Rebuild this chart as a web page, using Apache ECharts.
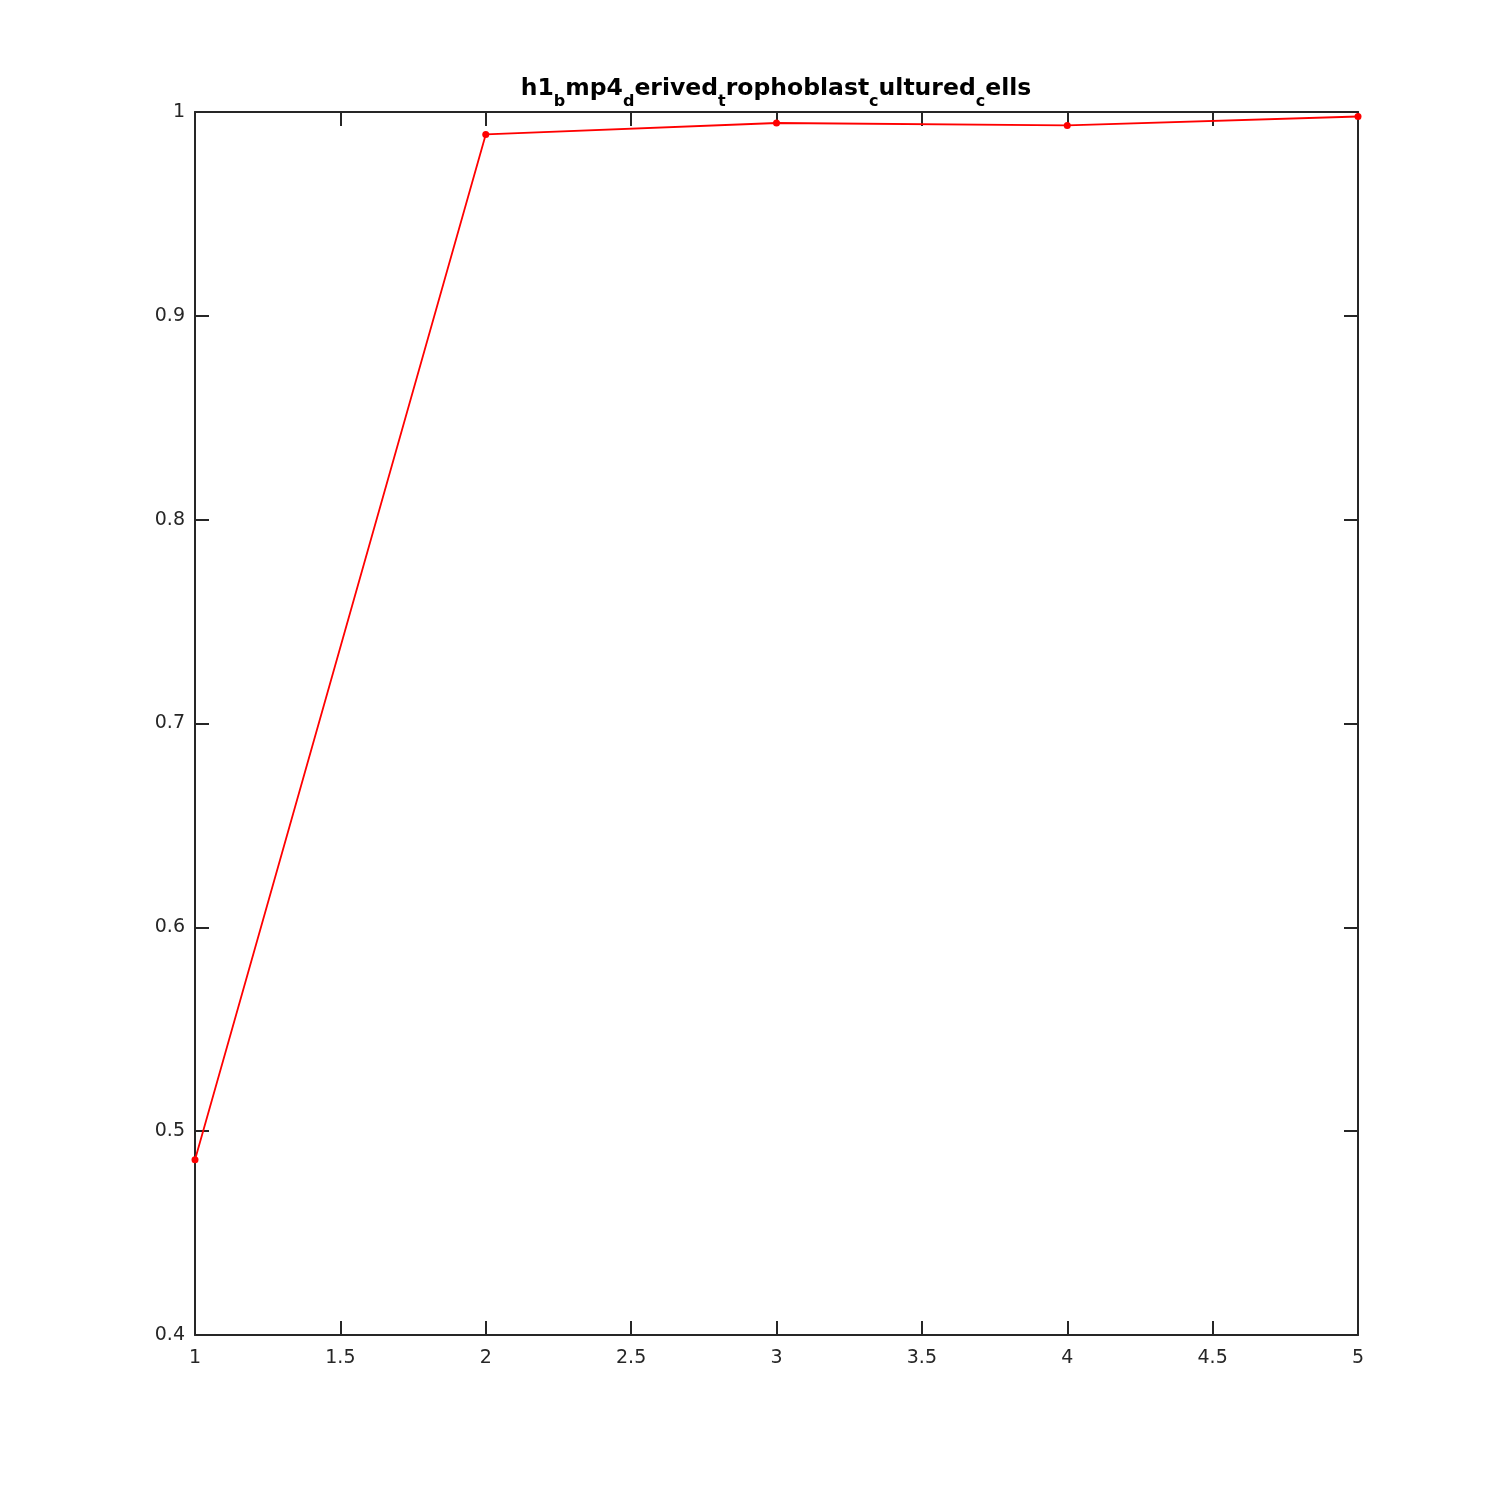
<!DOCTYPE html>
<html><head><meta charset="utf-8">
<script src="https://cdn.jsdelivr.net/npm/echarts@6/dist/echarts.min.js"></script>
<style>html,body{margin:0;padding:0;background:#fff}#c{width:1500px;height:1500px}</style>
</head><body><div id="c"></div>
<script>
const xValues = [1, 2, 3, 4, 5];
const yValues = [0.486, 0.989, 0.9946, 0.9934, 0.9978];
const titleParts = [['n','h1'],['s','b'],['n','mp4'],['s','d'],['n','erived'],['s','t'],['n','rophoblast'],['s','c'],['n','ultured'],['s','c'],['n','ells']];

const axisColor = '#262626';
const font = 'DejaVu Sans';
const chart = echarts.init(document.getElementById('c'));
const titleText = titleParts.map(p => '{' + p[0] + '|' + p[1] + '}').join('');
const fmt = v => String(+v.toFixed(2));
chart.setOption({
  animation: false,
  title: {
    text: titleText, left: 771, top: 72, textAlign: 'center',
    textStyle: {
      rich: {
        n: {fontFamily: font, fontWeight: 'bold', fontSize: 23.5, color: '#000', lineHeight: 26, verticalAlign: 'top'},
        s: {fontFamily: font, fontWeight: 'bold', fontSize: 16, color: '#000', lineHeight: 16, padding: [17, 0, 0, 0], verticalAlign: 'top'}
      }
    }
  },
  grid: {left: 195, right: 142, top: 112, bottom: 165, containLabel: false},
  xAxis: [{
    type: 'value', min: 1, max: 5, interval: 0.5, position: 'bottom',
    axisLine: {show: true, onZero: false, lineStyle: {color: axisColor, width: 2}},
    axisTick: {show: true, inside: true, length: 14, lineStyle: {color: axisColor, width: 2}},
    axisLabel: {color: axisColor, fontFamily: font, fontSize: 19, margin: 14, formatter: fmt},
    splitLine: {show: false}
  }, {
    type: 'value', min: 1, max: 5, interval: 0.5, position: 'top',
    axisLine: {show: true, onZero: false, lineStyle: {color: axisColor, width: 2}},
    axisTick: {show: true, inside: true, length: 14, lineStyle: {color: axisColor, width: 2}},
    axisLabel: {show: false}, splitLine: {show: false}
  }],
  yAxis: [{
    type: 'value', min: 0.4, max: 1, interval: 0.1, position: 'left',
    axisLine: {show: true, onZero: false, lineStyle: {color: axisColor, width: 2}},
    axisTick: {show: true, inside: true, length: 14, lineStyle: {color: axisColor, width: 2}},
    axisLabel: {color: axisColor, fontFamily: font, fontSize: 19, margin: 10, formatter: fmt, padding: [3, 0, 0, 0]},
    splitLine: {show: false}
  }, {
    type: 'value', min: 0.4, max: 1, interval: 0.1, position: 'right',
    axisLine: {show: true, onZero: false, lineStyle: {color: axisColor, width: 2}},
    axisTick: {show: true, inside: true, length: 14, lineStyle: {color: axisColor, width: 2}},
    axisLabel: {show: false}, splitLine: {show: false}
  }],
  series: [{
    type: 'line',
    data: xValues.map((x, i) => [x, yValues[i]]),
    symbol: 'circle', symbolSize: 7,
    lineStyle: {color: '#ff0000', width: 1.8},
    itemStyle: {color: '#ff0000'},
    clip: false
  }]
});
</script></body></html>
